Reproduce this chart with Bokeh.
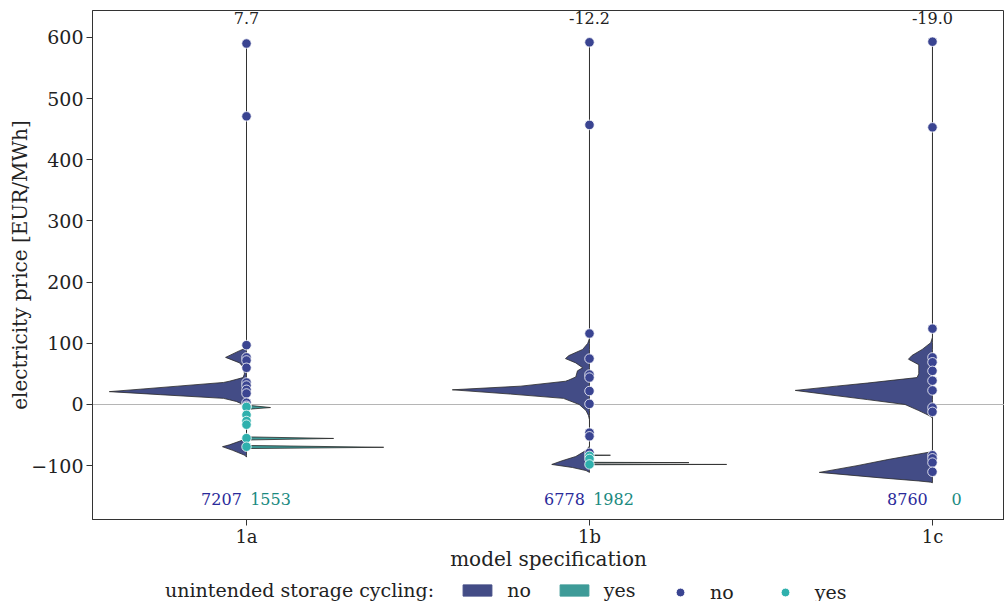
from bokeh.plotting import figure
from bokeh.layouts import column
from bokeh.models import Range1d, FixedTicker, Legend, LegendItem, Span
from bokeh.core.properties import value
from bokeh.embed import file_html
from bokeh.resources import INLINE

# ---------------- data ----------------
categories = ["1a", "1b", "1c"]
mean_labels = ["7.7", "-12.2", "-19.0"]
count_no = [7207, 6778, 8760]
count_yes = [1553, 1982, 0]
legend_title = "unintended storage cycling:"
hue_labels = ["no", "yes"]

# violin half-width profiles: price [EUR/MWh] and density width (share of category spacing)
no_1a_price = [596, 100, 92, 88, 77, 68, 60, 50, 44, 38, 36, 30, 25, 21, 16, 10, 5, 0, -3, -10,
               -50, -58, -66, -69, -75, -83, -86]
no_1a_width = [0, 0, 0.003, 0.02, 0.061, 0.02, 0.008, 0.006, 0.01, 0.05, 0.067, 0.20, 0.31, 0.40,
               0.25, 0.067, 0.03, 0.01, 0.003, 0, 0, 0.01, 0.05, 0.07, 0.04, 0.005, 0]
yes_1a_price = [-1, -5, -8, -52, -53, -55.5, -58, -66, -67, -70, -72, -73]
yes_1a_width = [0, 0.07, 0, 0, 0.005, 0.254, 0.005, 0.005, 0.005, 0.40, 0.005, 0]

no_1b_price = [598, 108, 100, 90, 80, 75, 68, 60, 55, 45, 40, 38, 30, 24, 17, 10, 0, -10, -18,
               -25, -68, -75, -85, -92, -98, -103, -108, -111]
no_1b_width = [0, 0, 0.005, 0.02, 0.06, 0.07, 0.04, 0.02, 0.035, 0.04, 0.06, 0.07, 0.20, 0.40,
               0.23, 0.076, 0.03, 0.01, 0.003, 0, 0, 0.01, 0.04, 0.08, 0.11, 0.05, 0.01, 0]
yes_1b_price = [-81, -82.5, -83, -83.5, -94, -94.5, -95, -95.5, -97, -97.5, -98, -98.5, -99]
yes_1b_width = [0, 0.002, 0.061, 0.002, 0.002, 0.002, 0.29, 0.002, 0.002, 0.002, 0.40, 0.002, 0]

no_1c_price = [600, 110, 101, 90, 80, 74, 65, 55, 50, 44, 35, 30, 23, 15, 8, 0, -10, -18, -22,
               -75, -78, -90, -100, -111, -120, -125, -127, -128]
no_1c_width = [0, 0, 0.005, 0.03, 0.06, 0.07, 0.04, 0.04, 0.04, 0.045, 0.19, 0.28, 0.40, 0.29,
               0.19, 0.08, 0.04, 0.01, 0, 0, 0.01, 0.13, 0.22, 0.33, 0.15, 0.04, 0.005, 0]
yes_1c_price = []
yes_1c_width = []

# individual observations shown as points
pts_no_1a = [590, 471, 97, 77, 72, 60, 36, 31, 24, 18, 3, -2]
pts_yes_1a = [-4, -17, -27, -33, -55, -69]
pts_no_1b = [592, 457, 116, 75, 49, 44, 22, 1, -46, -52, -79]
pts_yes_1b = [-84, -89, -98]
pts_no_1c = [593, 453, 124, 77, 69, 55, 39, 23, -5, -12, -83, -88, -95, -110]
pts_yes_1c = []

y_ticks = [-100, 0, 100, 200, 300, 400, 500, 600]

# ---------------- styling ----------------
C_NO = "#434c86"
C_YES = "#3e9b98"
P_NO = "#3a4491"
P_YES = "#2fb0ad"
T_NO = "#2a2a9a"
T_YES = "#1a8a80"
EDGE = "#2a2a2a"
FONT = "DejaVu Serif"

p = figure(frame_width=912, frame_height=509, output_backend="svg", toolbar_location=None,
           x_range=Range1d(-0.449, 2.21), y_range=Range1d(-188, 644),
           min_border_left=92, min_border_right=0, min_border_top=10, min_border_bottom=0)
p.xgrid.visible = False
p.ygrid.visible = False
p.outline_line_color = "#333333"
p.background_fill_color = "white"

p.add_layout(Span(location=0, dimension="width", line_color="#b5b5b5", line_width=1.2,
                  level="underlay"))


def half_violin(ci, prices, widths, side):
    xs = [ci + side * w for w in widths] + [ci] * len(prices)
    ys = list(prices) + list(prices)[::-1]
    return xs, ys


no_profiles = [(no_1a_price, no_1a_width), (no_1b_price, no_1b_width), (no_1c_price, no_1c_width)]
yes_profiles = [(yes_1a_price, yes_1a_width), (yes_1b_price, yes_1b_width),
                (yes_1c_price, yes_1c_width)]

nx, ny, yx, yy = [], [], [], []
for i, (pr, wd) in enumerate(no_profiles):
    xs, ys = half_violin(i, pr, wd, -1)
    nx.append(xs)
    ny.append(ys)
for i, (pr, wd) in enumerate(yes_profiles):
    if len(pr) == 0:
        continue
    xs, ys = half_violin(i, pr, wd, 1)
    yx.append(xs)
    yy.append(ys)

p.patches(xs=nx, ys=ny, fill_color=C_NO, line_color=EDGE, line_width=0.8)
p.patches(xs=yx, ys=yy, fill_color=C_YES, line_color=EDGE, line_width=0.8)

pts_no = [pts_no_1a, pts_no_1b, pts_no_1c]
pts_yes = [pts_yes_1a, pts_yes_1b, pts_yes_1c]
px_no, py_no, px_yes, py_yes = [], [], [], []
for i in range(3):
    px_no += [i] * len(pts_no[i])
    py_no += pts_no[i]
    px_yes += [i] * len(pts_yes[i])
    py_yes += pts_yes[i]

p.scatter(px_no, py_no, size=9.5, fill_color=P_NO, line_color="white", line_width=0.8)
p.scatter(px_yes, py_yes, size=9.5, fill_color=P_YES, line_color="white", line_width=0.8)

# mean labels on top
p.text(x=list(range(3)), y=[631] * 3, text=mean_labels, text_align="center",
       text_baseline="middle", text_font=value(FONT), text_font_size="16px", text_color="#222222")
# count labels
p.text(x=[i - 0.073 for i in range(3)], y=[-155] * 3, text=[str(c) for c in count_no],
       text_align="center", text_baseline="middle", text_font=value(FONT),
       text_font_size="16px", text_color=T_NO)
p.text(x=[i + 0.07 for i in range(3)], y=[-155] * 3, text=[str(c) for c in count_yes],
       text_align="center", text_baseline="middle", text_font=value(FONT),
       text_font_size="16px", text_color=T_YES)

# axes
p.xaxis.ticker = FixedTicker(ticks=[0, 1, 2])
p.xaxis.major_label_overrides = {i: c for i, c in enumerate(categories)}
p.yaxis.ticker = FixedTicker(ticks=y_ticks)
p.yaxis.major_label_overrides = {t: (str(t).replace("-", "\u2212")) for t in y_ticks}
for ax in (p.xaxis, p.yaxis):
    ax.minor_tick_line_color = None
    ax.major_tick_out = 6
    ax.major_tick_in = 0
    ax.major_tick_line_color = "#333333"
    ax.axis_line_color = "#333333"
    ax.major_label_text_font = FONT
    ax.major_label_text_font_size = "19px"
    ax.major_label_text_color = "#222222"
    ax.axis_label_text_font = FONT
    ax.axis_label_text_font_size = "20px"
    ax.axis_label_text_font_style = "normal"
    ax.axis_label_text_color = "#222222"
p.xaxis.major_label_text_font_size = "18px"
p.xaxis.axis_label = "model specification"
p.yaxis.axis_label = "electricity price [EUR/MWh]"
p.xaxis.major_label_standoff = 0
p.xaxis.axis_label_standoff = -3
p.yaxis.major_label_standoff = 3
p.yaxis.axis_label_standoff = -4

# ---------------- legend strip below the chart ----------------
leg = figure(width=1004, height=30, output_backend="svg", toolbar_location=None,
             x_range=Range1d(0, 1), y_range=Range1d(0, 1),
             x_axis_location=None, y_axis_location=None,
             min_border_left=0, min_border_right=0, min_border_top=0, min_border_bottom=0)
leg.xgrid.visible = False
leg.ygrid.visible = False
leg.outline_line_color = None
leg.background_fill_color = "white"

lt = leg.scatter([-5], [-5], size=1, fill_alpha=0, line_alpha=0)
l_no = leg.patches(xs=[[-5, -4, -4]], ys=[[-5, -5, -4]], fill_color=C_NO, line_color=C_NO)
l_yes = leg.patches(xs=[[-5, -4, -4]], ys=[[-5, -5, -4]], fill_color=C_YES, line_color=C_YES)
l_pno = leg.scatter([-5], [-5], size=9.5, fill_color=P_NO, line_color="white")
l_pyes = leg.scatter([-5], [-5], size=9.5, fill_color=P_YES, line_color="white")

common = dict(orientation="horizontal", glyph_width=36, label_standoff=12, padding=0, margin=0,
              border_line_color=None, background_fill_alpha=0, label_text_font=FONT,
              label_text_font_size="19px", label_height=18, label_text_color="#222222")

legend_a = Legend(items=[
    LegendItem(label=legend_title, renderers=[lt]),
    LegendItem(label=hue_labels[0], renderers=[l_no]),
    LegendItem(label=hue_labels[1], renderers=[l_yes]),
], location=(25, 2), glyph_height=14, spacing=25, **common)
legend_b = Legend(items=[
    LegendItem(label=hue_labels[0], renderers=[l_pno]),
    LegendItem(label=hue_labels[1], renderers=[l_pyes]),
], location=(570, 0), glyph_height=22, spacing=33, **common)
leg.add_layout(legend_a, "center")
leg.add_layout(legend_b, "center")

layout = column(p, leg, spacing=0)
open("out.html", "w").write(file_html(layout, INLINE))
